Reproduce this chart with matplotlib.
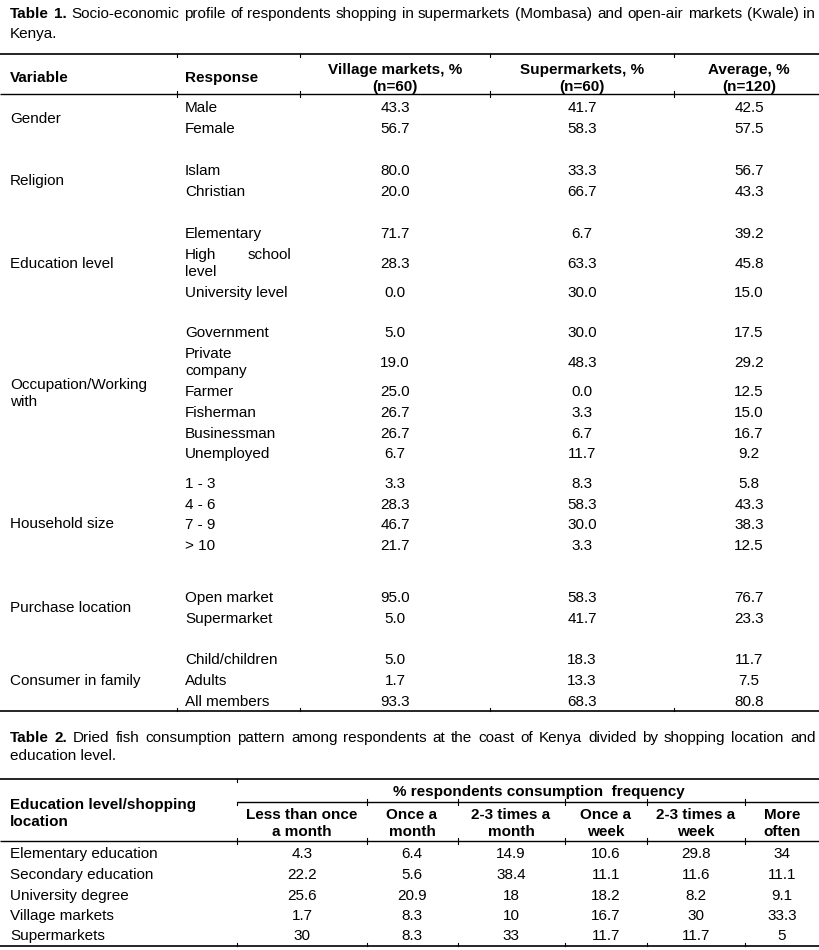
import matplotlib
matplotlib.use("Agg")
import matplotlib.pyplot as plt

plt.rcParams['font.family'] = ['Liberation Sans', 'DejaVu Sans']

# ---- Table 1 data ----
variables = ["Gender", "Religion", "Education level", "Occupation/Working\nwith",
             "Household size", "Purchase location", "Consumer in family"]
group_sizes = [2, 2, 3, 6, 4, 2, 3]
responses = ["Male", "Female", "Islam", "Christian", "Elementary", "High school\nlevel",
             "University level", "Government", "Private\ncompany", "Farmer", "Fisherman",
             "Businessman", "Unemployed", "1 - 3", "4 - 6", "7 - 9", "> 10",
             "Open market", "Supermarket", "Child/children", "Adults", "All members"]
village = [43.3, 56.7, 80.0, 20.0, 71.7, 28.3, 0.0, 5.0, 19.0, 25.0, 26.7, 26.7, 6.7,
           3.3, 28.3, 46.7, 21.7, 95.0, 5.0, 5.0, 1.7, 93.3]
supermarket = [41.7, 58.3, 33.3, 66.7, 6.7, 63.3, 30.0, 30.0, 48.3, 0.0, 3.3, 6.7, 11.7,
               8.3, 58.3, 30.0, 3.3, 58.3, 41.7, 18.3, 13.3, 68.3]
average = [42.5, 57.5, 56.7, 43.3, 39.2, 45.8, 15.0, 17.5, 29.2, 12.5, 15.0, 16.7, 9.2,
           5.8, 43.3, 38.3, 12.5, 76.7, 23.3, 11.7, 7.5, 80.8]
t1_headers = ["Village markets, %\n(n=60)", "Supermarkets, %\n(n=60)", "Average, %\n(n=120)"]

# ---- Table 2 data ----
t2_rows = ["Elementary education", "Secondary education", "University degree",
           "Village markets", "Supermarkets"]
t2_headers = ["Less than once\na month", "Once a\nmonth", "2-3 times a\nmonth",
              "Once a\nweek", "2-3 times a\nweek", "More\noften"]
t2_values = [
    ["4.3", "6.4", "14.9", "10.6", "29.8", "34"],
    ["22.2", "5.6", "38.4", "11.1", "11.6", "11.1"],
    ["25.6", "20.9", "18", "18.2", "8.2", "9.1"],
    ["1.7", "8.3", "10", "16.7", "30", "33.3"],
    ["30", "8.3", "33", "11.7", "11.7", "5"],
]

title1 = ("Table 1.", "Socio-economic profile of respondents shopping in supermarkets "
          "(Mombasa) and open-air markets (Kwale) in", "Kenya.")
title2 = ("Table 2.", "Dried fish consumption pattern among respondents at the coast of "
          "Kenya divided by shopping location and", "education level.")

FS = 11
LINE = 17      # line spacing inside wrapped cells, px
CAP = 5.5      # half cap height, px
W, H = 820, 950
fig = plt.figure(figsize=(W / 100, H / 100), dpi=100)
ax = fig.add_axes([0, 0, 1, 1])
ax.set_xlim(0, W)
ax.set_ylim(H, 0)
ax.axis("off")
renderer = fig.canvas.get_renderer()


def txt(x, y, s, ha="left", bold=False):
    # y is the vertical centre of the line (cap-height centre)
    lines = s.split("\n")
    y0 = y - (len(lines) - 1) * LINE / 2
    for i, line in enumerate(lines):
        ax.text(x, round(y0 + i * LINE + CAP), line, fontsize=FS, ha=ha,
                va="baseline", fontweight="bold" if bold else "normal")


def justified(words, x0, x1, y, weights):
    base = round(y + CAP)
    arts = [ax.text(0, base, w, fontsize=FS, fontweight=wt, va="baseline", ha="left")
            for w, wt in zip(words, weights)]
    widths = [a.get_window_extent(renderer=renderer).width for a in arts]
    gap = (x1 - x0 - sum(widths)) / (len(arts) - 1)
    x = x0
    for a, w in zip(arts, widths):
        a.set_x(round(x))
        x += w + gap


def caption(parts, y):
    bold_words = parts[0].split()
    rest = parts[1].split()
    justified(bold_words + rest, 10, 815, y,
              ["bold"] * len(bold_words) + ["normal"] * len(rest))
    txt(10, y + 19, parts[2])


def rule(y, x0=0, x1=W, lw=1.2, up=(), down=()):
    ax.plot([x0, x1], [y, y], color="black", lw=lw, solid_capstyle="butt")
    for tx in up:
        ax.plot([tx, tx], [y, y - 3], color="black", lw=0.8)
    for tx in down:
        ax.plot([tx, tx], [y, y + 3], color="black", lw=0.8)


# ---- Table 1 ----
t1_bounds = [177, 300, 490, 674]
caption(title1, 13)
rule(54, down=t1_bounds)
txt(10, 76, "Variable", bold=True)
txt(185, 76, "Response", bold=True)
for hx, h in zip([395, 582, 749], t1_headers):
    txt(hx, 77, h, ha="center", bold=True)
rule(94, lw=1.0, up=t1_bounds, down=t1_bounds)

step, wrap_extra = 20.7, 18
group_gaps = [0, 21, 21.5, 19, 9, 31, 21]
label_shift = [0, 0, 0, 0, 9, 0, 0]
y = 107
idx = 0
for g, (var, n) in enumerate(zip(variables, group_sizes)):
    if g > 0:
        y += step + group_gaps[g]
    ys = []
    for k in range(n):
        resp = responses[idx]
        if k > 0:
            y += step
        if "\n" in resp:
            if k > 0:
                y += wrap_extra / 2
            yy = y
            first, second = resp.split("\n")
            if first == "High school":
                txt(185, yy - LINE / 2, "High")
                txt(291, yy - LINE / 2, "school", ha="right")
                txt(185, yy + LINE / 2, second)
            else:
                txt(185, yy, resp)
            y += wrap_extra / 2
        else:
            yy = y
            txt(185, yy, resp)
        txt(395, yy, f"{village[idx]:.1f}", ha="center")
        txt(582, yy, f"{supermarket[idx]:.1f}", ha="center")
        txt(749, yy, f"{average[idx]:.1f}", ha="center")
        ys.append(yy)
        idx += 1
    txt(10, (ys[0] + ys[-1]) / 2 + label_shift[g], var)
rule(711, up=t1_bounds)

# ---- Table 2 ----
t2_bounds = [237, 367, 458, 565, 647, 745]
caption(title2, 736)
rule(779, down=[237])
txt(539, 791, "% respondents consumption  frequency", ha="center", bold=True)
rule(802, x0=237, lw=1.0, up=[367, 458, 565, 647, 745], down=t2_bounds)
txt(10, 812, "Education level/shopping\nlocation", bold=True)
col_x = [302, 412, 511, 606, 696, 782]
for cx, h in zip(col_x, t2_headers):
    txt(cx, 822, h, ha="center", bold=True)
rule(841, lw=1.0, up=t2_bounds, down=t2_bounds)
for r, (name, vals) in enumerate(zip(t2_rows, t2_values)):
    ry = 853 + r * 20.5
    txt(10, ry, name)
    for cx, v in zip(col_x, vals):
        txt(cx, ry, v, ha="center")
rule(946, up=t2_bounds)

fig.savefig("out.png", dpi=100)
